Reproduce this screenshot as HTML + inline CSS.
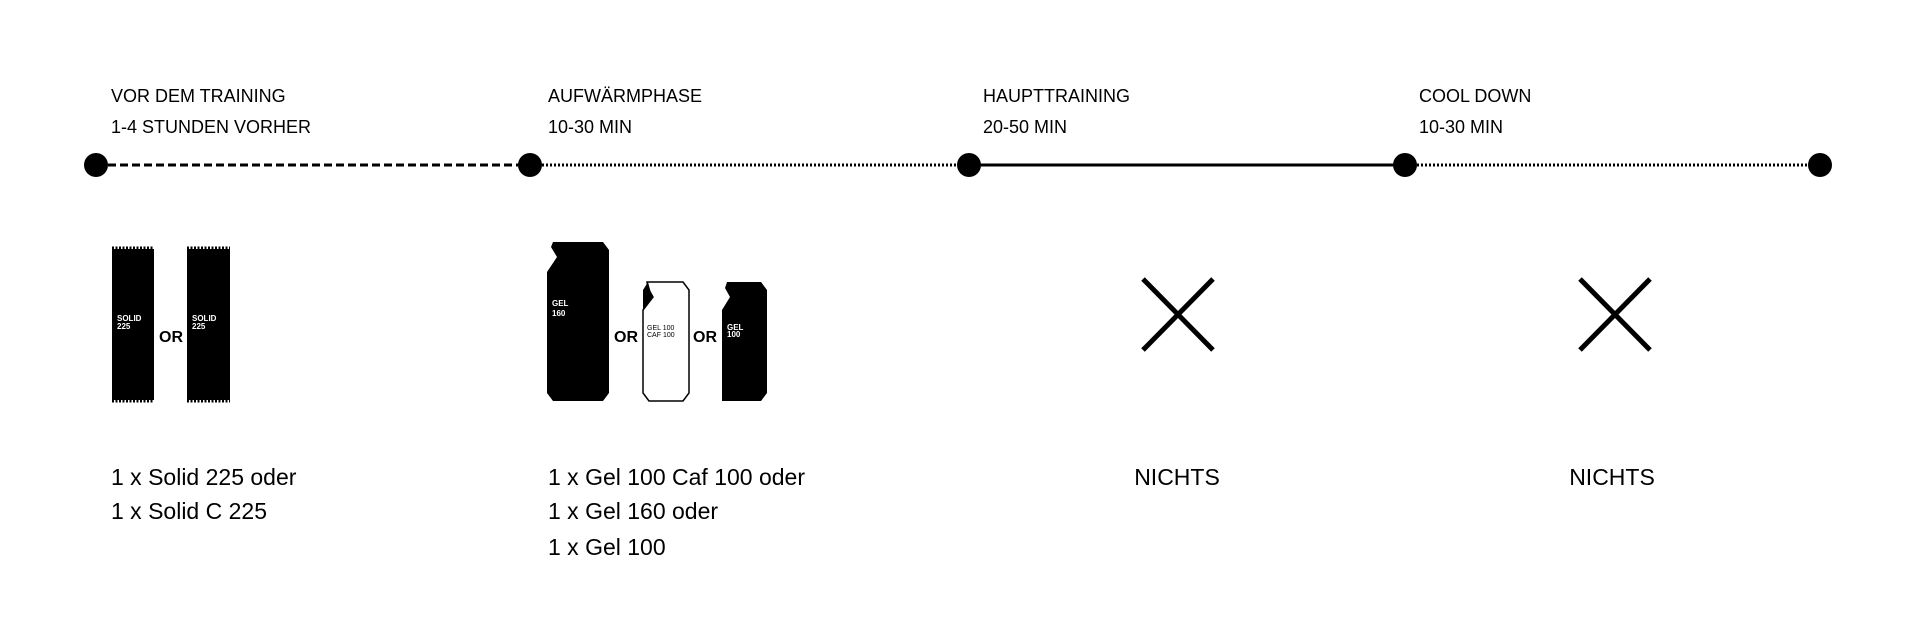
<!DOCTYPE html>
<html><head><meta charset="utf-8"><style>
body{margin:0;width:1920px;height:628px;background:#fff;overflow:hidden;font-family:"Liberation Sans",sans-serif;}
</style></head><body>
<svg width="1920" height="628" xmlns="http://www.w3.org/2000/svg" font-family="Liberation Sans, sans-serif">
<line x1="96" y1="165" x2="530" y2="165" stroke="#000" stroke-width="3" stroke-dasharray="8,4"/>
<line x1="530" y1="165" x2="969" y2="165" stroke="#000" stroke-width="3" stroke-dasharray="2,2"/>
<line x1="969" y1="165" x2="1405" y2="165" stroke="#000" stroke-width="3"/>
<line x1="1405" y1="165" x2="1820" y2="165" stroke="#000" stroke-width="3" stroke-dasharray="2,2"/>
<g fill="#000"><circle cx="96" cy="165" r="12"/><circle cx="530" cy="165" r="12"/><circle cx="969" cy="165" r="12"/><circle cx="1405" cy="165" r="12"/><circle cx="1820" cy="165" r="12"/></g>
<g font-size="18" fill="#000">
<text x="111" y="102">VOR DEM TRAINING</text><text x="111" y="133">1-4 STUNDEN VORHER</text>
<text x="548" y="102">AUFWÄRMPHASE</text><text x="548" y="133">10-30 MIN</text>
<text x="983" y="102">HAUPTTRAINING</text><text x="983" y="133">20-50 MIN</text>
<text x="1419" y="102">COOL DOWN</text><text x="1419" y="133">10-30 MIN</text>
</g>
<rect x="112" y="249" width="42" height="151" fill="#000"/>
<rect x="187" y="249" width="43" height="151" fill="#000"/>
<g stroke="#000" stroke-width="3" stroke-dasharray="2,1.5"><line x1="112" y1="248" x2="154" y2="248"/><line x1="112" y1="401" x2="154" y2="401"/><line x1="187" y1="248" x2="230" y2="248"/><line x1="187" y1="401" x2="230" y2="401"/></g>
<g font-size="8" font-weight="bold" fill="#fff"><text x="117" y="321">SOLID</text><text x="117" y="329">225</text><text x="192" y="321">SOLID</text><text x="192" y="329">225</text></g>
<g font-size="16" font-weight="bold" fill="#000"><text x="159" y="342">OR</text><text x="614" y="342">OR</text><text x="693" y="342">OR</text></g>
<g transform="translate(-3,0)">
<path d="M556,242 L606,242 L612,250 L612,393 L606,401 L556,401 L550,393 L550,272 L560,257 L554,247 Z" fill="#000"/>
<path d="M650,282 L686,282 L692,290 L692,393 L686,401 L652,401 L646,393 L646,310 L656,297 L651,288 Z" fill="#fff" stroke="#000" stroke-width="1.5"/>
<path d="M646,290 L651,282 L655,297 L646,310 Z" fill="#000"/>
<path d="M730,282 L764,282 L770,290 L770,393 L764,401 L725,401 L725,310 L733,297 L728,288 Z" fill="#000"/>
<g font-size="8" font-weight="bold" fill="#fff"><text x="555" y="306">GEL</text><text x="555" y="316">160</text><text x="730" y="330">GEL</text><text x="730" y="337">100</text></g>
<g font-size="7" fill="#000"><text x="650" y="330">GEL 100</text><text x="650" y="337">CAF 100</text></g>
</g>
<g stroke="#000" stroke-width="5"><line x1="1143" y1="279" x2="1213" y2="350"/><line x1="1213" y1="279" x2="1143" y2="350"/><line x1="1580" y1="279" x2="1650" y2="350"/><line x1="1650" y1="279" x2="1580" y2="350"/></g>
<g font-size="23" fill="#000">
<text x="111" y="485">1 x Solid 225 oder</text><text x="111" y="519">1 x Solid C 225</text>
<text x="548" y="485">1 x Gel 100 Caf 100 oder</text><text x="548" y="519">1 x Gel 160 oder</text><text x="548" y="555">1 x Gel 100</text>
<text x="1177" y="485" text-anchor="middle">NICHTS</text><text x="1612" y="485" text-anchor="middle">NICHTS</text>
</g>
</svg>
</body></html>
